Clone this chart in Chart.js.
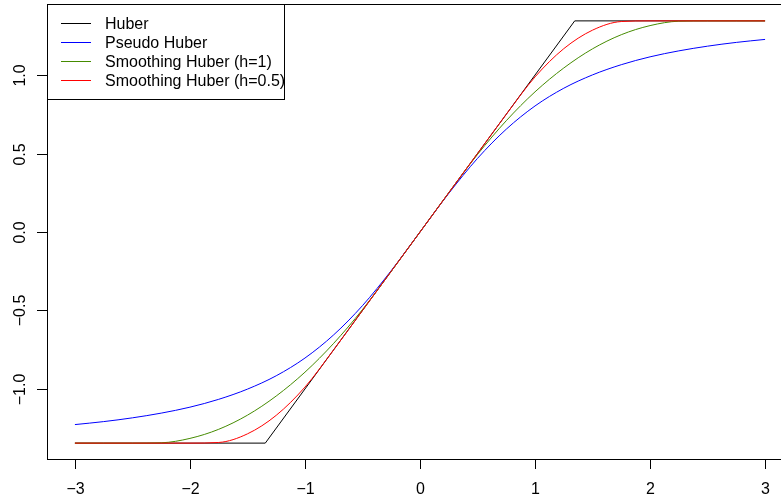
<!DOCTYPE html>
<html>
<head>
<meta charset="utf-8">
<script src="https://cdn.jsdelivr.net/npm/chart.js@4"></script>
<style>
  html, body { margin: 0; padding: 0; background: #fff; overflow: hidden; }
  #wrap { width: 800px; height: 500px; }
</style>
</head>
<body>
<div id="wrap"><canvas id="psiChart" width="800" height="500"></canvas></div>
<script>
// ================= DATA =================
const xs = [-3, -2.75, -2.5, -2.25, -2, -1.75, -1.5, -1.25, -1, -0.75, -0.5, -0.25, 0,
            0.25, 0.5, 0.75, 1, 1.25, 1.5, 1.75, 2, 2.25, 2.5, 2.75, 3];

const huberX = [-3, -1.345, 1.345, 3];
const huberY = [-1.345, -1.345, 1.345, 1.345];

const pseudoHuber = [-1.227, -1.208, -1.184, -1.154, -1.116, -1.066, -1.001, -0.916, -0.803, -0.655, -0.469, -0.246, 0,
                     0.246, 0.469, 0.655, 0.803, 0.916, 1.001, 1.066, 1.116, 1.154, 1.184, 1.208, 1.227];

const smoothH1 = [-1.345, -1.345, -1.345, -1.343, -1.315, -1.257, -1.167, -1.045, -0.893, -0.709, -0.494, -0.25, 0,
                  0.25, 0.494, 0.709, 0.893, 1.045, 1.167, 1.257, 1.315, 1.343, 1.345, 1.345, 1.345];

const smoothH05 = [-1.345, -1.345, -1.345, -1.345, -1.345, -1.341, -1.286, -1.168, -0.988, -0.75, -0.5, -0.25, 0,
                   0.25, 0.5, 0.75, 0.988, 1.168, 1.286, 1.341, 1.345, 1.345, 1.345, 1.345, 1.345];

const xTicks = [-3, -2, -1, 0, 1, 2, 3];
const yTicks = [-1, -0.5, 0, 0.5, 1];

const seriesNames = ['Huber', 'Pseudo Huber', 'Smoothing Huber (h=1)', 'Smoothing Huber (h=0.5)'];
const seriesColors = ['#000000', '#0000FF', '#458B00', '#FF0000'];

const FONT = '16px "Liberation Sans", Arial, sans-serif';

function fmt(v, digits) {
  const s = v.toFixed(digits);
  return v < 0 ? '\u2212' + s.slice(1) : s;
}

function pts(xv, yv) {
  return xv.map((x, i) => ({ x: x, y: yv[i] }));
}

// ================= AXES / BOX / LEGEND =================
const rBase = {
  id: 'rBase',
  afterDraw(chart) {
    const c = chart.ctx;
    const a = chart.chartArea;
    const sx = chart.scales.x, sy = chart.scales.y;
    c.save();
    c.strokeStyle = '#000';
    c.lineWidth = 1;
    c.strokeRect(Math.round(a.left) + 0.5, Math.round(a.top) + 0.5,
                 Math.round(a.right - a.left), Math.round(a.bottom - a.top) - 1);

    c.fillStyle = '#000';
    c.font = FONT;

    // x axis
    c.textAlign = 'center';
    c.textBaseline = 'middle';
    xTicks.forEach(v => {
      const px = Math.round(sx.getPixelForValue(v)) + 0.5;
      c.beginPath();
      c.moveTo(px, a.bottom - 1);
      c.lineTo(px, a.bottom + 9);
      c.stroke();
      c.fillText(fmt(v, 0), px, 490);
    });

    // y axis, labels turned like R
    yTicks.forEach(v => {
      const py = Math.round(sy.getPixelForValue(v)) + 0.5;
      c.beginPath();
      c.moveTo(a.left, py);
      c.lineTo(a.left - 10, py);
      c.stroke();
      c.save();
      c.translate(21, py);
      c.rotate(-Math.PI / 2);
      c.fillText(fmt(v, 1), 0, 0);
      c.restore();
    });

    // legend
    c.fillStyle = '#fff';
    c.fillRect(a.left + 1, a.top + 1, 236, 94);
    c.strokeStyle = '#000';
    c.strokeRect(Math.round(a.left) + 0.5, Math.round(a.top) + 0.5, 237, 95);
    c.textAlign = 'left';
    seriesNames.forEach((name, i) => {
      const y = 23 + i * 19;
      c.fillStyle = seriesColors[i];
      c.fillRect(61, y, 30, 1);
      c.fillStyle = '#000';
      c.fillText(name, 105, y + 1.5);
    });
    c.restore();
  }
};

// ================= CHART =================
const ctx = document.getElementById('psiChart');

new Chart(ctx, {
  type: 'line',
  data: {
    datasets: [
      { label: seriesNames[0], data: pts(huberX, huberY), borderColor: seriesColors[0], order: 4 },
      { label: seriesNames[1], data: pts(xs, pseudoHuber), borderColor: seriesColors[1], order: 3, cubicInterpolationMode: 'monotone' },
      { label: seriesNames[2], data: pts(xs, smoothH1), borderColor: seriesColors[2], order: 2, cubicInterpolationMode: 'monotone' },
      { label: seriesNames[3], data: pts(xs, smoothH05), borderColor: seriesColors[3], order: 1, cubicInterpolationMode: 'monotone' }
    ]
  },
  options: {
    responsive: false,
    animation: false,
    devicePixelRatio: 1,
    layout: { padding: { left: 47, top: 4, right: 7, bottom: 40 } },
    elements: {
      point: { radius: 0 },
      line: { borderWidth: 1, fill: false }
    },
    plugins: {
      legend: { display: false },
      tooltip: { enabled: false }
    },
    scales: {
      x: { type: 'linear', min: -3.2426, max: 3.2426, display: false },
      y: { type: 'linear', min: -1.4526, max: 1.4526, display: false }
    }
  },
  plugins: [rBase]
});
</script>
</body>
</html>
